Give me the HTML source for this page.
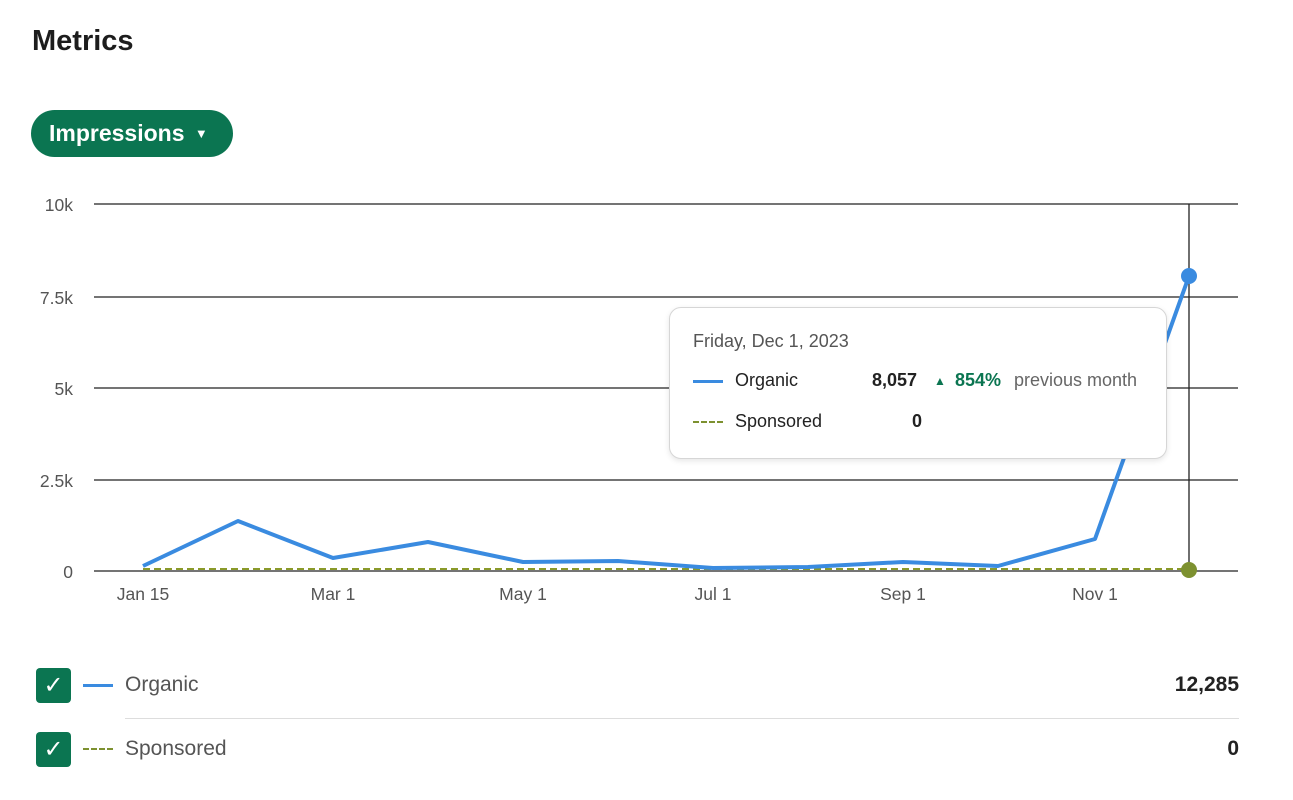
<!DOCTYPE html>
<html><head><meta charset="utf-8"><style>
body{margin:0;width:1293px;height:800px;background:#fff;font-family:"Liberation Sans",sans-serif;position:relative;overflow:hidden}
.a{position:absolute}
</style></head><body>
<div class="a" style="left:32px;top:25px;font-size:29px;font-weight:bold;color:#1d1d1d">Metrics</div>
<div class="a" style="left:31px;top:110px;width:202px;height:47px;border-radius:24px;background:#0b7551;color:#fff;font-size:23px;font-weight:bold;line-height:47px;box-sizing:border-box;padding-left:18px">Impressions <span style="font-size:13px;position:relative;top:-3px;margin-left:4px">▼</span></div>
<svg class="a" style="left:0;top:0" width="1293" height="800">
<g stroke="#222" stroke-width="1.3">
<line x1="94" x2="1238" y1="204" y2="204"/><line x1="94" x2="1238" y1="297" y2="297"/><line x1="94" x2="1238" y1="388" y2="388"/><line x1="94" x2="1238" y1="480" y2="480"/><line x1="94" x2="1238" y1="571" y2="571"/>
<line x1="1189" x2="1189" y1="204" y2="571"/>
</g>
<g font-size="17.5" fill="#555" text-anchor="end">
<text x="73" y="211">10k</text><text x="73" y="304">7.5k</text><text x="73" y="395">5k</text><text x="73" y="487">2.5k</text><text x="73" y="578">0</text>
</g>
<g font-size="17.5" fill="#555" text-anchor="middle">
<text x="143" y="600">Jan 15</text><text x="333" y="600">Mar 1</text><text x="523" y="600">May 1</text><text x="713" y="600">Jul 1</text><text x="903" y="600">Sep 1</text><text x="1095" y="600">Nov 1</text>
</g>
<line x1="143" x2="1189" y1="569" y2="569" stroke="#8a9a2a" stroke-width="2" stroke-dasharray="7,4"/>
<polyline fill="none" stroke="#3a8be0" stroke-width="4" stroke-linejoin="round" points="143,566 238,521 333,558 428,542 523,562 618,561 713,568 808,567 903,562 998,566 1095,539 1189,276"/>
<circle cx="1189" cy="276" r="8" fill="#3a8be0"/>
<circle cx="1189" cy="570" r="8" fill="#7d9130"/>
</svg>
<div class="a" style="left:669px;top:307px;width:498px;height:152px;box-sizing:border-box;border:1px solid #d6d6d6;border-radius:12px;background:#fff;box-shadow:0 2px 6px rgba(0,0,0,.1)"></div>
<div class="a" style="left:693px;top:331px;font-size:18px;color:#555">Friday, Dec 1, 2023</div>
<div class="a" style="left:693px;top:380px;width:30px;height:3px;background:#3a8be0"></div>
<div class="a" style="left:735px;top:370px;font-size:18px;color:#222">Organic</div>
<div class="a" style="left:872px;top:370px;font-size:18px;color:#222;font-weight:bold">8,057</div>
<div class="a" style="left:934px;top:374px;font-size:12px;color:#0b7551">▲</div>
<div class="a" style="left:955px;top:370px;font-size:18px;color:#0b7551;font-weight:bold">854%</div>
<div class="a" style="left:1014px;top:370px;font-size:18px;color:#666">previous month</div>
<div class="a" style="left:693px;top:421px;width:30px;border-top:2px dashed #7d9130"></div>
<div class="a" style="left:735px;top:411px;font-size:18px;color:#222">Sponsored</div>
<div class="a" style="left:912px;top:411px;font-size:18px;color:#222;font-weight:bold">0</div>
<div class="a" style="left:36px;top:668px;width:35px;height:35px;border-radius:4px;background:#0b7551;color:#fff;font-size:24px;text-align:center;line-height:35px">✓</div>
<div class="a" style="left:83px;top:684px;width:30px;height:3px;background:#3a8be0"></div>
<div class="a" style="left:125px;top:673px;font-size:21px;color:#555">Organic</div>
<div class="a" style="right:54px;top:673px;font-size:21px;color:#222;font-weight:bold">12,285</div>
<div class="a" style="left:125px;top:718px;width:1114px;height:1px;background:#ddd"></div>
<div class="a" style="left:36px;top:732px;width:35px;height:35px;border-radius:4px;background:#0b7551;color:#fff;font-size:24px;text-align:center;line-height:35px">✓</div>
<div class="a" style="left:83px;top:748px;width:30px;border-top:2px dashed #7d9130"></div>
<div class="a" style="left:125px;top:737px;font-size:21px;color:#555">Sponsored</div>
<div class="a" style="right:54px;top:737px;font-size:21px;color:#222;font-weight:bold">0</div>
</body></html>
